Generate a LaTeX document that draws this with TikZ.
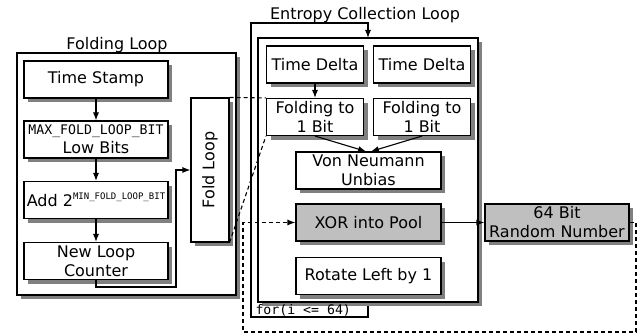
\documentclass[tikz,border=0pt]{standalone}
\usepackage{fontspec}
\setmainfont{DejaVu Sans}
\setmonofont{DejaVu Sans Mono}
\usetikzlibrary{arrows.meta,shadows}
\newcommand\mono{\fontsize{6.6}{8}\selectfont\ttfamily}

\begin{document}
\begin{tikzpicture}[x=0.5pt,y=-0.5pt,line width=0.55pt,font=\fontsize{8}{9.5}\selectfont,>={Latex[length=4pt,width=3pt]},
  blk/.style={draw,fill=white,align=center,inner sep=0pt,minimum width=72pt,minimum height=18.5pt,drop shadow={shadow xshift=2.2pt,shadow yshift=-2.2pt,fill=black!50,opacity=1}},
  hot/.style={blk,fill=black!25},
  loopbox/.style={blk,minimum width=#1},
  zoomline/.style={dash pattern=on 2pt off 1.5pt}]
\useasboundingbox (0,0) rectangle (639,335);
\node[loopbox=109.5pt,minimum height=121pt] (fl) at (126.5,174) {};
\node (fltitle) at (117,45) {Folding Loop};
\node[blk] (ts) at (96,79.5) {Time Stamp};
\node[blk] (low) at (96,139.5) {{\mono MAX\_FOLD\_LOOP\_BIT}\\Low Bits};
\node[blk] (add) at (96,200) {Add 2\raisebox{0.85ex}{\fontsize{4.5}{5}\selectfont\ttfamily MIN\_FOLD\_LOOP\_BIT}};
\node[blk] (cnt) at (96,261) {New Loop\\Counter};
\node[loopbox=19pt,minimum height=72pt] (fold) at (210,170) {\rotatebox{90}{Fold Loop}};
\coordinate (ret) at (176,287);
\draw[->] (ts) -- (low); \draw[->] (low) -- (add); \draw[->] (add) -- (cnt);
\draw[->] (cnt.south) |- (ret) |- (fold.west);
\coordinate (lb) at (251,317); \coordinate (lt) at (251,23);
\draw[->] (368,302) |- (lb) |- (lt) -| (368,38);
\node[loopbox=110pt,minimum height=132pt] (ent) at (368,170) {};
\node (enttitle) at (365,15) {Entropy Collection Loop};
\node[anchor=west,font=\mono,inner sep=0pt] (cond) at (255,310) {for(i <= 64)};
\node[loopbox=48.5pt] (td1) at (315,64.5) {Time Delta};
\node[loopbox=48.5pt] (td2) at (422,64.5) {Time Delta};
\node[loopbox=48.5pt] (f1) at (315,117) {Folding to\\1 Bit};
\node[loopbox=48.5pt] (f2) at (422,117) {Folding to\\1 Bit};
\node[loopbox=72.5pt] (vn) at (368.5,170.5) {Von Neumann\\Unbias};
\node[hot,minimum width=72.5pt] (xor) at (368.5,222.5) {XOR into Pool};
\node[loopbox=72.5pt] (rot) at (368.5,276) {Rotate Left by 1};
\node[hot] (rnd) at (557,222.5) {64 Bit\\Random Number};
\draw[->] (td1) -- (f1);
\draw[->] (f1.south) -- ([xshift=-1.2pt]vn.north); \draw[->] (f2.south) -- ([xshift=1.2pt]vn.north);
\draw[->] (xor) -- (rnd);
\draw[zoomline] (fold.north east) -- (f1.north west);
\draw[zoomline] (fold.south east) -- (f1.south west);
\coordinate (br) at (636,332); \coordinate (pin) at (243,222.5);
\draw[zoomline,->] (rnd.east) -| (br) -| (pin) -- (xor.west);
\end{tikzpicture}
\end{document}
